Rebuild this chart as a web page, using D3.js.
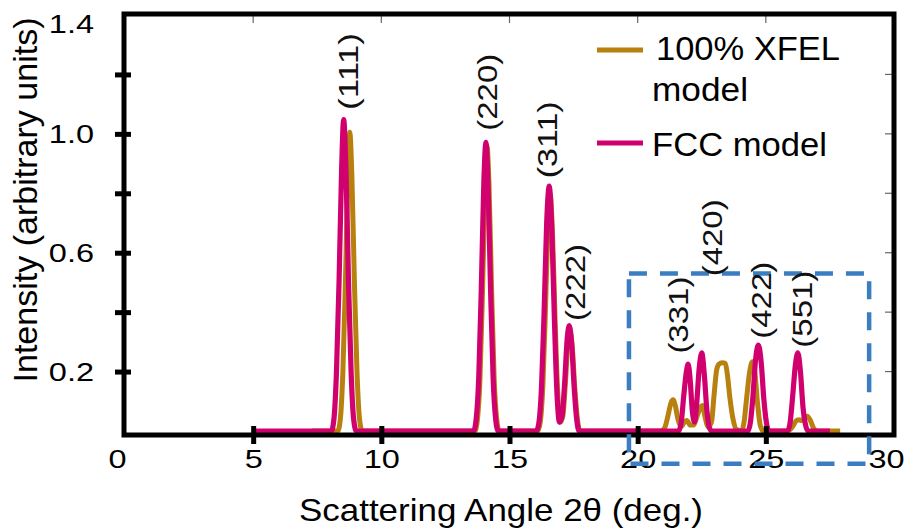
<!DOCTYPE html>
<html><head><meta charset="utf-8">
<script src="https://cdn.jsdelivr.net/npm/d3@7"></script>
<style>body{margin:0;background:#fff}svg{display:block}</style>
</head><body><svg id="c" width="911" height="529"></svg>
<script>
// ---- data ----
const xTicks = [0, 5, 10, 15, 20, 25, 30];
const yTicks = [0.2, 0.4, 0.6, 0.8, 1.0, 1.2, 1.4];
const yLabeled = [0.2, 0.6, 1.0, 1.4];
const seriesNames = ["100% XFEL", "model", "FCC model"];
const xLabel = "Scattering Angle 2\u03B8 (deg.)";
const yLabel = "Intensity (arbitrary units)";

// 100% XFEL model: [angle, intensity]
const xfelData = [
  [7.3,0],[8.3,0],[8.4,0.04],[8.5,0.2],[8.6,0.5],[8.7,0.88],[8.77,1.005],[8.85,0.86],[8.95,0.5],[9.05,0.2],[9.15,0.04],[9.25,0],
  [13.65,0],[13.75,0.04],[13.85,0.18],[13.95,0.48],[14.05,0.83],[14.12,0.96],[14.2,0.83],[14.3,0.48],[14.4,0.18],[14.5,0.04],[14.6,0],
  [16.1,0],[16.2,0.03],[16.3,0.15],[16.4,0.4],[16.5,0.69],[16.58,0.80],[16.68,0.66],[16.78,0.37],[16.88,0.13],[16.98,0.03],
  [17.08,0.05],[17.18,0.16],[17.28,0.3],[17.36,0.335],[17.45,0.28],[17.55,0.14],[17.65,0.04],[17.75,0],
  [20.9,0],[21.05,0.01],[21.18,0.05],[21.3,0.095],[21.38,0.105],[21.47,0.085],[21.57,0.04],[21.7,0.015],[21.82,0.03],[21.92,0.035],
  [22.05,0.02],[22.18,0.02],[22.32,0.05],[22.45,0.08],[22.53,0.086],[22.62,0.05],[22.75,0.015],[22.88,0.03],[22.98,0.12],[23.08,0.205],
  [23.17,0.225],[23.3,0.23],[23.42,0.228],[23.5,0.19],[23.6,0.11],[23.72,0.04],[23.85,0.005],[24.05,0],[24.15,0.03],[24.25,0.11],
  [24.37,0.2],[24.48,0.233],[24.58,0.19],[24.68,0.09],[24.78,0.02],[24.9,0],[25.8,0],[25.95,0.005],[26.08,0.02],[26.18,0.034],
  [26.28,0.038],[26.4,0.035],[26.52,0.046],[26.62,0.05],[26.74,0.035],[26.86,0.01],[27.0,0],[27.9,0]
];

// FCC model: [angle, intensity]
const fccData = [
  [5.1,0],[8.05,0],[8.15,0.04],[8.25,0.2],[8.35,0.5],[8.45,0.88],[8.53,1.048],[8.62,0.88],[8.72,0.5],[8.82,0.2],[8.92,0.04],[9.02,0],
  [13.6,0],[13.7,0.04],[13.8,0.18],[13.9,0.48],[14.0,0.84],[14.08,0.971],[14.16,0.84],[14.26,0.48],[14.36,0.18],[14.46,0.04],[14.56,0],
  [16.05,0],[16.15,0.03],[16.25,0.15],[16.35,0.4],[16.45,0.7],[16.55,0.824],[16.65,0.68],[16.75,0.38],[16.85,0.13],[16.95,0.03],
  [17.05,0.05],[17.15,0.16],[17.25,0.31],[17.33,0.355],[17.42,0.3],[17.52,0.15],[17.62,0.04],[17.72,0],
  [21.6,0],[21.7,0.03],[21.8,0.12],[21.9,0.2],[21.97,0.225],[22.05,0.17],[22.13,0.07],[22.22,0.03],[22.3,0.09],[22.4,0.21],
  [22.5,0.263],[22.6,0.19],[22.7,0.07],[22.8,0.01],[22.9,0],
  [24.3,0],[24.4,0.03],[24.5,0.12],[24.6,0.24],[24.71,0.289],[24.82,0.23],[24.92,0.11],[25.02,0.03],[25.12,0],
  [25.85,0],[25.95,0.03],[26.05,0.12],[26.15,0.22],[26.25,0.263],[26.35,0.2],[26.45,0.08],[26.55,0.02],[26.65,0],[27.5,0]
];

const peakLabels = ["(111)", "(220)", "(311)", "(222)", "(331)", "(420)", "(422)", "(551)"];
const peakLabelAngle = [8.70, 14.12, 16.47, 17.56, 21.58, 22.90, 24.81, 26.41];
const peakLabelIntensity = [1.21, 1.14, 0.98, 0.50, 0.39, 0.65, 0.44, 0.41];

// highlighted region (dashed box), in data units
const boxAngle = [19.66, 29.03];
const boxIntensity = [-0.11, 0.53];

// ---- drawing ----
const W = 911, H = 529;
const gold = "#b8800e", pink = "#d1006f", blue = "#3b7dc1";
const FONT = "Arial, 'Liberation Sans', sans-serif";
const svg = d3.select("#c");
svg.append("rect").attr("width", W).attr("height", H).attr("fill", "#fff");

const x = d3.scaleLinear().domain([0, 30]).range([125, 894]);
const y = d3.scaleLinear().domain([0, 1.4]).range([431, 15]);

const line = d3.line().x(d => x(d[0])).y(d => y(d[1])).curve(d3.curveMonotoneX);

// thin top/right minor ticks
const minor = svg.append("g");
xTicks.slice(1, -1).forEach(t => {
  minor.append("line").attr("x1", x(t)).attr("x2", x(t)).attr("y1", 16).attr("y2", 23)
    .attr("stroke", "#666").attr("stroke-width", 1.2);
});
yTicks.slice(0, -1).forEach(t => {
  minor.append("line").attr("x1", 885).attr("x2", 893).attr("y1", y(t)).attr("y2", y(t))
    .attr("stroke", "#666").attr("stroke-width", 1.2);
});

// series
svg.append("path").datum(xfelData).attr("d", line).attr("fill", "none")
  .attr("stroke", gold).attr("stroke-width", 5).attr("stroke-linejoin", "round");
svg.append("path").datum(fccData).attr("d", line).attr("fill", "none")
  .attr("stroke", pink).attr("stroke-width", 5.2).attr("stroke-linejoin", "round");

// frame
svg.append("rect").attr("x", x(0) - 1).attr("y", y(1.4) - 1)
  .attr("width", x(30) - x(0) + 1).attr("height", y(0) + 4 - (y(1.4) - 1))
  .attr("fill", "none").attr("stroke", "#000").attr("stroke-width", 5);

// bottom axis
const gx = svg.append("g").attr("transform", `translate(0,${y(0) + 4})`)
  .call(d3.axisBottom(x).tickValues(xTicks).tickFormat(d3.format("d")).tickSize(8));
gx.select(".domain").remove();
gx.selectAll(".tick line").attr("y1", -9).attr("y2", 9).attr("stroke", "#000").attr("stroke-width", 5)
  .filter(d => d === 0 || d === 30).remove();
gx.selectAll(".tick text").attr("y", 33).attr("dy", 0)
  .attr("font-family", FONT).attr("font-size", 25).attr("fill", "#000")
  .attr("dx", d => d === 0 ? -8 : d === 30 ? -8 : 0);

// left axis
const gy = svg.append("g").attr("transform", `translate(${x(0) - 1},0)`)
  .call(d3.axisLeft(y).tickValues(yTicks).tickFormat(d => yLabeled.includes(d) ? d3.format(".1f")(d) : "").tickSize(8));
gy.select(".domain").remove();
gy.selectAll(".tick line").attr("x1", -9).attr("x2", 7).attr("stroke", "#000").attr("stroke-width", 5)
  .filter(d => d === 1.4).remove();
gy.selectAll(".tick text").attr("x", -30).attr("dy", d => d === 1.4 ? 17 : 9)
  .attr("font-family", FONT).attr("font-size", 25).attr("fill", "#000");

// stretch tick labels horizontally
svg.selectAll(".tick text").each(function() {
  const n = this.getComputedTextLength();
  if (n > 0) d3.select(this).attr("textLength", n * 1.3).attr("lengthAdjust", "spacingAndGlyphs");
});

// dashed box
svg.append("rect").attr("x", x(boxAngle[0])).attr("y", y(boxIntensity[1]))
  .attr("width", x(boxAngle[1]) - x(boxAngle[0])).attr("height", y(boxIntensity[0]) - y(boxIntensity[1]))
  .attr("fill", "none").attr("stroke", blue).attr("stroke-width", 4.5).attr("stroke-dasharray", "18,13");

// peak labels
peakLabels.forEach((t, i) => {
  svg.append("text")
    .attr("transform", `translate(${x(peakLabelAngle[i])},${y(peakLabelIntensity[i])}) rotate(-90)`)
    .attr("text-anchor", "middle").attr("dy", "0.36em")
    .attr("font-family", FONT).attr("font-size", 28).attr("fill", "#111")
    .attr("textLength", 77).attr("lengthAdjust", "spacingAndGlyphs")
    .text(t);
});

// legend
const lg = svg.append("g");
lg.append("line").attr("x1", 597).attr("x2", 643).attr("y1", 50).attr("y2", 50).attr("stroke", gold).attr("stroke-width", 5);
lg.append("line").attr("x1", 597).attr("x2", 643).attr("y1", 143).attr("y2", 143).attr("stroke", pink).attr("stroke-width", 5);
lg.append("text").attr("x", 656).attr("y", 60).attr("font-family", FONT).attr("font-size", 33)
  .attr("textLength", 184).attr("lengthAdjust", "spacingAndGlyphs").text(seriesNames[0]);
lg.append("text").attr("x", 652).attr("y", 101).attr("font-family", FONT).attr("font-size", 33)
  .attr("textLength", 96).attr("lengthAdjust", "spacingAndGlyphs").text(seriesNames[1]);
lg.append("text").attr("x", 652).attr("y", 156).attr("font-family", FONT).attr("font-size", 33)
  .attr("textLength", 175).attr("lengthAdjust", "spacingAndGlyphs").text(seriesNames[2]);

// axis titles
svg.append("text").attr("x", 501).attr("y", 521).attr("text-anchor", "middle")
  .attr("font-family", FONT).attr("font-size", 32).attr("textLength", 404).attr("lengthAdjust", "spacingAndGlyphs")
  .text(xLabel);
svg.append("text").attr("transform", "translate(37,200) rotate(-90)").attr("text-anchor", "middle")
  .attr("font-family", FONT).attr("font-size", 33).attr("textLength", 365).attr("lengthAdjust", "spacingAndGlyphs")
  .text(yLabel);
</script></body></html>
